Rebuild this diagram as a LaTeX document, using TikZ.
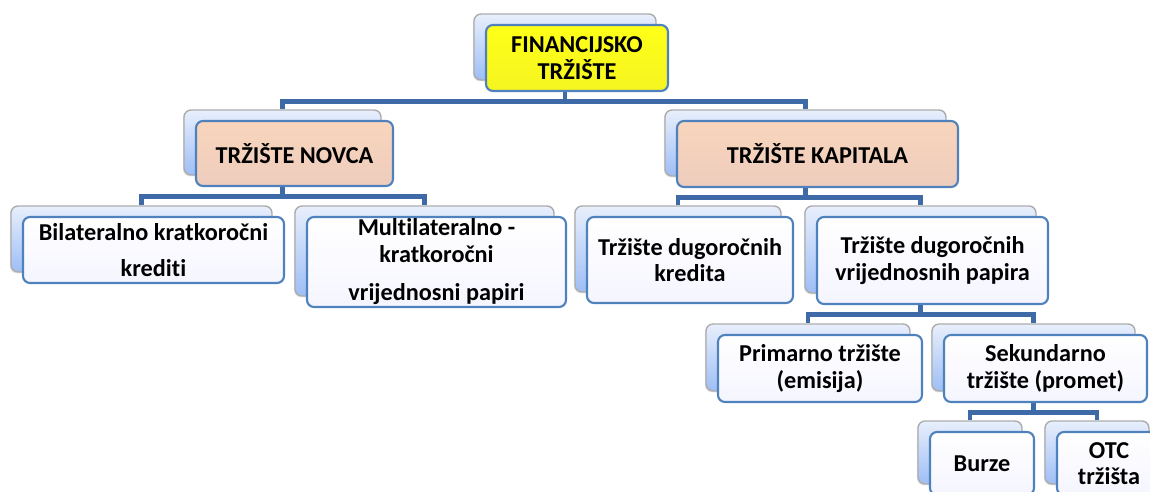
\documentclass[tikz,border=0pt]{standalone}
\usepackage{fontspec}
\setmainfont{Carlito}[Ligatures=NoCommon]
\usetikzlibrary{backgrounds,shadows}
\definecolor{linkblue}{RGB}{62,107,168}
\definecolor{edgeblue}{RGB}{79,129,189}
\definecolor{peach}{RGB}{248,213,187}
\definecolor{shadetop}{RGB}{232,239,252}
\definecolor{shadebot}{RGB}{158,190,246}
\definecolor{rootyellow}{RGB}{255,255,24}
\begin{document}
\begin{tikzpicture}[x=0.02cm,y=-0.02cm,
    backbox/.style={draw=gray!65,line width=0.8pt,rounded corners=4pt,
      top color=shadetop,bottom color=shadebot,inner sep=0pt,
      drop shadow={opacity=0.2,shadow xshift=-0.6pt,shadow yshift=-0.8pt}},
    frontbox/.style={draw=edgeblue,line width=1.2pt,rounded corners=4pt,
      top color=#1,bottom color=#1!96!blue,inner sep=0pt,align=center,
      font=\bfseries\fontsize{13.8}{15}\selectfont},
    frontbox/.default=white,
    link/.style={draw=linkblue,line width=2.8pt}]
  \useasboundingbox (0,0) rectangle (1150,491);
  \clip (0,0) rectangle (1150,491);
  % back box centre, size, fill, text
  \foreach \nm/\px/\py/\bw/\bh/\fc/\txt in {
      fk/565/47/182/66/rootyellow/{FINANCIJSKO\\TRŽIŠTE},
      tn/282.5/142.5/197/65/peach/{TRŽIŠTE NOVCA},
      tk/805.5/143/281/66/peach/{TRŽIŠTE KAPITALA},
      bil/141.5/239/261/66/white/{Bilateralno kratkoročni\\[5.5pt]krediti},
      mul/424.5/251/259/90/white/{Multilateralno -\\kratkoročni\\[7pt]vrijednosni papiri},
      tdk/678/249/206/86/white/{Tržište dugoročnih\\kredita},
      tdvp/920.5/249.5/231/87/white/{Tržište dugoročnih\\vrijednosnih papira},
      pri/808/357.5/204/67/white/{Primarno tržište\\(emisija)},
      sek/1033.5/357.5/203/67/white/{Sekundarno\\tržište (promet)},
      bur/970/452.5/104/63/white/{Burze},
      otc/1097/452.5/104/63/white/{OTC\\tržišta}}
  {
    \node[backbox,minimum width=\bw*0.02cm,minimum height=\bh*0.02cm] (\nm-b) at (\px,\py) {};
    \node[frontbox=\fc,minimum width=\bw*0.02cm,minimum height=\bh*0.02cm] (\nm) at ([shift={(12,11)}]\nm-b.center) {\txt};
  }
  \begin{pgfonlayer}{background}
    \foreach \p/\c in {fk/tn,fk/tk,tn/bil,tn/mul,tk/tdk,tk/tdvp,tdvp/pri,tdvp/sek,sek/bur,sek/otc}
      \draw[link] (\p-b.south) -- ++(0,21) -| (\c-b.north);
  \end{pgfonlayer}
\end{tikzpicture}
\end{document}
